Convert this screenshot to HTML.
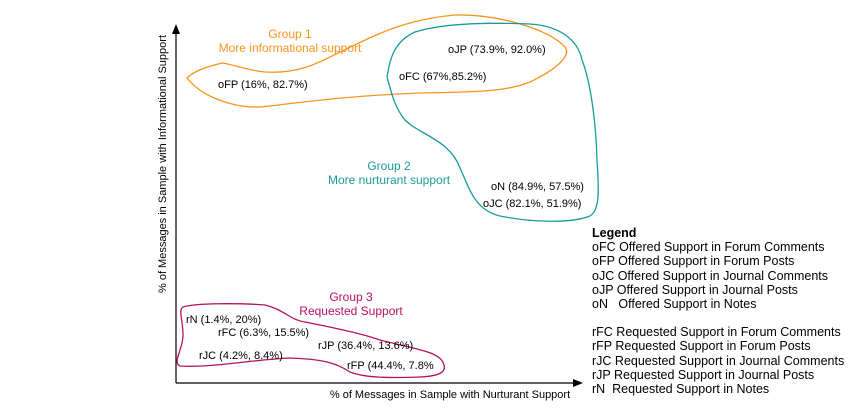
<!DOCTYPE html><html><head><style>body{margin:0;background:#fff}</style></head><body>
<svg width="856" height="410" xmlns="http://www.w3.org/2000/svg" font-family="Liberation Sans, sans-serif" font-size="11">
<line x1="176" y1="383" x2="176" y2="32" stroke="#000" stroke-width="1.2"/>
<polygon points="176,24 172,34 180,34" fill="#000"/>
<line x1="176" y1="383" x2="574" y2="383" stroke="#000" stroke-width="1.2"/>
<polygon points="583,383 573,379 573,387" fill="#000"/>
<text transform="translate(166,164) rotate(-90)" text-anchor="middle" font-size="11">% of Messages in Sample with Informational Support</text>
<text x="450" y="398" text-anchor="middle" font-size="11">% of Messages in Sample with Nurturant Support</text>
<path d="M187,78 C195,70 210,66 222,63 C232,64 245,70 265,72 C300,74 320,62 340,52 C370,38 400,20 455,15 C500,14 550,30 565,47 C572,56 555,70 530,82 C510,90 490,92 420,93 C340,96 290,104 260,107 C230,108 200,95 187,78 Z" fill="none" stroke="#f7941d" stroke-width="1.3"/>
<path d="M387,77 C390,60 393,42 415,32 C440,24 480,22 530,24 C560,26 578,40 582,60 C590,80 596,120 597,160 C599,190 600,210 590,216 C570,224 530,222 500,216 C475,210 470,190 460,168 C450,140 420,135 405,120 C395,108 392,95 387,77 Z" fill="none" stroke="#1a9a9a" stroke-width="1.3"/>
<path d="M183,307 C195,303 240,303 265,305 C285,310 290,320 305,322 C330,327 360,333 380,340 C420,350 441,352 444,365 C446,372 440,376 420,377 C390,378 365,378 350,372 C335,362 320,359 289,358 C250,360 210,368 180,366 C172,362 183,350 183,335 C183,320 178,310 183,307 Z" fill="none" stroke="#b5125d" stroke-width="1.3"/>
<g fill="#f7941d" font-size="12" text-anchor="middle"><text x="290" y="38">Group 1</text><text x="290" y="52">More informational support</text></g>
<g fill="#1a9a9a" font-size="12" text-anchor="middle"><text x="389" y="170">Group 2</text><text x="389" y="184">More nurturant support</text></g>
<g fill="#b5125d" font-size="12" text-anchor="middle"><text x="351" y="301">Group 3</text><text x="351" y="315">Requested Support</text></g>
<g fill="#000">
<text x="218" y="88">oFP (16%, 82.7%)</text>
<text x="448" y="53">oJP (73.9%, 92.0%)</text>
<text x="399" y="80">oFC (67%,85.2%)</text>
<text x="491" y="190">oN (84.9%, 57.5%)</text>
<text x="483" y="207">oJC (82.1%, 51.9%)</text>
<text x="186" y="323">rN (1.4%, 20%)</text>
<text x="218" y="336">rFC (6.3%, 15.5%)</text>
<text x="318" y="349">rJP (36.4%, 13.6%)</text>
<text x="199" y="359">rJC (4.2%, 8.4%)</text>
<text x="347" y="369">rFP (44.4%, 7.8%</text>
</g>
<g fill="#000" font-size="12.5">
<text x="592" y="237" font-weight="bold">Legend</text>
<text x="592" y="251">oFC Offered Support in Forum Comments</text>
<text x="592" y="265">oFP Offered Support in Forum Posts</text>
<text x="592" y="280">oJC Offered Support in Journal Comments</text>
<text x="592" y="294">oJP Offered Support in Journal Posts</text>
<text x="592" y="308" xml:space="preserve">oN   Offered Support in Notes</text>
<text x="592" y="336">rFC Requested Support in Forum Comments</text>
<text x="592" y="350">rFP Requested Support in Forum Posts</text>
<text x="592" y="365">rJC Requested Support in Journal Comments</text>
<text x="592" y="379">rJP Requested Support in Journal Posts</text>
<text x="592" y="393" xml:space="preserve">rN  Requested Support in Notes</text>
</g>
</svg></body></html>
